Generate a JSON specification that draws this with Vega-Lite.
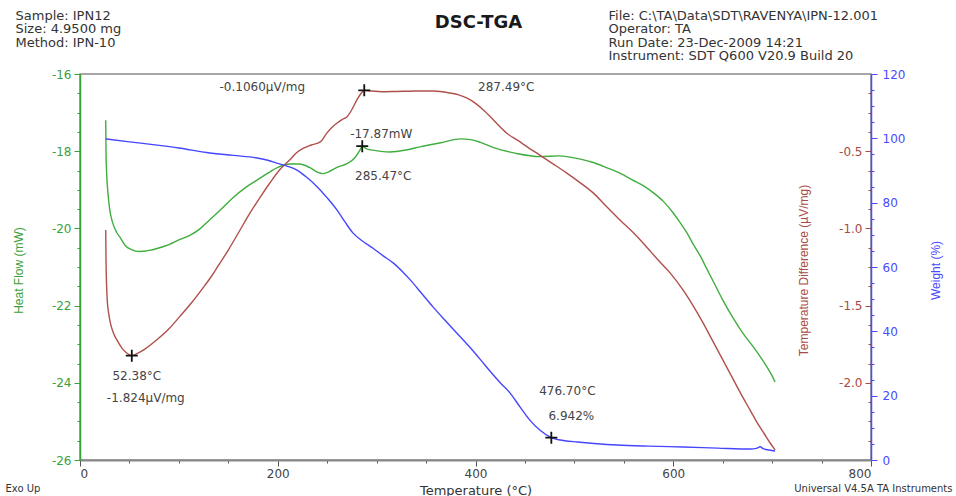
{
  "$schema": "https://vega.github.io/schema/vega-lite/v6.json",
  "width": 791,
  "height": 386,
  "autosize": "none",
  "padding": {"left": 80, "top": 74, "right": 85, "bottom": 36},
  "background": "white",
  "config": {
    "view": {"stroke": "#8a8a8a", "strokeWidth": 1.5},
    "axis": {"labelFont": "DejaVu Sans", "titleFont": "Liberation Sans", "grid": false, "titleFontWeight": "normal"}
  },
  "datasets": {
    "hf": [
      {"t": 26, "v": -17.2}, {"t": 26.3, "v": -18.0}, {"t": 27, "v": -18.6}, {"t": 28, "v": -19.0},
      {"t": 30, "v": -19.5}, {"t": 33, "v": -19.85}, {"t": 37, "v": -20.1}, {"t": 41, "v": -20.25},
      {"t": 46, "v": -20.45}, {"t": 52, "v": -20.55}, {"t": 60, "v": -20.6}, {"t": 70, "v": -20.57},
      {"t": 78, "v": -20.52}, {"t": 90, "v": -20.42}, {"t": 100, "v": -20.3}, {"t": 112, "v": -20.17},
      {"t": 121, "v": -20.02}, {"t": 131, "v": -19.78}, {"t": 143, "v": -19.5}, {"t": 155, "v": -19.2},
      {"t": 167, "v": -18.95}, {"t": 179, "v": -18.75}, {"t": 190, "v": -18.57}, {"t": 200, "v": -18.42},
      {"t": 212, "v": -18.33}, {"t": 222, "v": -18.33}, {"t": 232, "v": -18.42}, {"t": 240, "v": -18.54},
      {"t": 245, "v": -18.58}, {"t": 251, "v": -18.54}, {"t": 260, "v": -18.42}, {"t": 270, "v": -18.32},
      {"t": 278, "v": -18.17}, {"t": 283, "v": -17.98}, {"t": 285.47, "v": -17.87}, {"t": 290, "v": -17.94},
      {"t": 298, "v": -17.98}, {"t": 313, "v": -18.02}, {"t": 330, "v": -17.97}, {"t": 345, "v": -17.88},
      {"t": 365, "v": -17.78}, {"t": 385, "v": -17.68}, {"t": 395, "v": -17.7}, {"t": 405, "v": -17.77},
      {"t": 420, "v": -17.92}, {"t": 440, "v": -18.05}, {"t": 465, "v": -18.14}, {"t": 485, "v": -18.12},
      {"t": 505, "v": -18.2}, {"t": 520, "v": -18.3}, {"t": 533, "v": -18.43}, {"t": 547, "v": -18.58},
      {"t": 559, "v": -18.75}, {"t": 570, "v": -18.9}, {"t": 580, "v": -19.08}, {"t": 590, "v": -19.3},
      {"t": 600, "v": -19.6}, {"t": 607, "v": -19.85}, {"t": 614, "v": -20.12}, {"t": 620, "v": -20.4},
      {"t": 627, "v": -20.7}, {"t": 634, "v": -21.05}, {"t": 640, "v": -21.35}, {"t": 650, "v": -21.85},
      {"t": 660, "v": -22.3}, {"t": 670, "v": -22.7}, {"t": 681, "v": -23.07}, {"t": 690, "v": -23.4},
      {"t": 695, "v": -23.6}, {"t": 700, "v": -23.82}, {"t": 703, "v": -23.98}
    ],
    "td": [
      {"t": 26, "v": -1.01}, {"t": 26.3, "v": -1.2}, {"t": 26.8, "v": -1.35}, {"t": 27.5, "v": -1.46},
      {"t": 29, "v": -1.55}, {"t": 31, "v": -1.62}, {"t": 34, "v": -1.68}, {"t": 38, "v": -1.73},
      {"t": 43, "v": -1.78}, {"t": 48, "v": -1.81}, {"t": 52.38, "v": -1.824}, {"t": 58, "v": -1.81},
      {"t": 66, "v": -1.78}, {"t": 78, "v": -1.72}, {"t": 90, "v": -1.65}, {"t": 101, "v": -1.57},
      {"t": 113, "v": -1.48}, {"t": 125, "v": -1.38}, {"t": 133, "v": -1.31}, {"t": 140, "v": -1.24},
      {"t": 150, "v": -1.14}, {"t": 161, "v": -1.02}, {"t": 172, "v": -0.9}, {"t": 182, "v": -0.8},
      {"t": 192, "v": -0.706}, {"t": 202, "v": -0.62}, {"t": 212, "v": -0.557}, {"t": 219, "v": -0.51},
      {"t": 226, "v": -0.48}, {"t": 234, "v": -0.46}, {"t": 243, "v": -0.44}, {"t": 250, "v": -0.38},
      {"t": 255, "v": -0.345}, {"t": 260, "v": -0.317}, {"t": 265, "v": -0.295}, {"t": 270, "v": -0.278},
      {"t": 275, "v": -0.23}, {"t": 280, "v": -0.168}, {"t": 285, "v": -0.12}, {"t": 287.49, "v": -0.106},
      {"t": 295, "v": -0.11}, {"t": 305, "v": -0.115}, {"t": 320, "v": -0.113}, {"t": 340, "v": -0.11},
      {"t": 357, "v": -0.11}, {"t": 374, "v": -0.123}, {"t": 383, "v": -0.135}, {"t": 391, "v": -0.155},
      {"t": 400, "v": -0.19}, {"t": 408, "v": -0.233}, {"t": 417, "v": -0.29}, {"t": 425, "v": -0.343},
      {"t": 433, "v": -0.39}, {"t": 442, "v": -0.427}, {"t": 453, "v": -0.475}, {"t": 465, "v": -0.525},
      {"t": 478, "v": -0.58}, {"t": 492, "v": -0.64}, {"t": 505, "v": -0.7}, {"t": 519, "v": -0.77},
      {"t": 532, "v": -0.855}, {"t": 546, "v": -0.945}, {"t": 560, "v": -1.03}, {"t": 573, "v": -1.12},
      {"t": 584, "v": -1.2}, {"t": 597, "v": -1.29}, {"t": 610, "v": -1.4}, {"t": 620, "v": -1.5},
      {"t": 630, "v": -1.61}, {"t": 640, "v": -1.73}, {"t": 650, "v": -1.85}, {"t": 660, "v": -1.97},
      {"t": 670, "v": -2.09}, {"t": 678, "v": -2.18}, {"t": 685, "v": -2.26}, {"t": 692, "v": -2.33},
      {"t": 698, "v": -2.39}, {"t": 703, "v": -2.435}
    ],
    "wt": [
      {"t": 26, "v": 99.8}, {"t": 50, "v": 98.9}, {"t": 78, "v": 97.9}, {"t": 100, "v": 97.0},
      {"t": 128, "v": 95.6}, {"t": 155, "v": 94.7}, {"t": 179, "v": 93.9}, {"t": 190, "v": 93.2},
      {"t": 199, "v": 92.3}, {"t": 210, "v": 91.3}, {"t": 219, "v": 90.2}, {"t": 228, "v": 88.2},
      {"t": 240, "v": 84.9}, {"t": 250, "v": 81.5}, {"t": 260, "v": 77.7}, {"t": 268, "v": 74.0},
      {"t": 276, "v": 70.6}, {"t": 286, "v": 68.0}, {"t": 296, "v": 65.9}, {"t": 306, "v": 63.6},
      {"t": 317, "v": 61.2}, {"t": 327, "v": 58.3}, {"t": 334, "v": 56.0}, {"t": 345, "v": 52.0},
      {"t": 357, "v": 47.6}, {"t": 369, "v": 43.5}, {"t": 381, "v": 39.5}, {"t": 393, "v": 35.5},
      {"t": 405, "v": 31.2}, {"t": 415, "v": 27.5}, {"t": 425, "v": 24.0}, {"t": 435, "v": 20.8},
      {"t": 445, "v": 16.5}, {"t": 455, "v": 12.4}, {"t": 465, "v": 9.3}, {"t": 476.7, "v": 6.942},
      {"t": 490, "v": 6.0}, {"t": 503, "v": 5.6}, {"t": 520, "v": 5.15}, {"t": 543, "v": 4.66},
      {"t": 575, "v": 4.3}, {"t": 610, "v": 4.04}, {"t": 645, "v": 3.7}, {"t": 678, "v": 3.42},
      {"t": 684, "v": 3.6}, {"t": 688, "v": 4.1}, {"t": 691, "v": 3.5}, {"t": 695, "v": 3.2},
      {"t": 703, "v": 2.8}
    ],
    "ann": [
      {"s": "hf", "t": 285.47, "v": -17.87, "tl": "285.47°C", "vl": "-17.87mW"},
      {"s": "tdmin", "t": 52.38, "v": -1.824, "tl": "52.38°C", "vl": "-1.824µV/mg"},
      {"s": "tdmax", "t": 287.49, "v": -0.106, "tl": "287.49°C", "vl": "-0.1060µV/mg"},
      {"s": "wt", "t": 476.7, "v": 6.942, "tl": "476.70°C", "vl": "6.942%"}
    ]
  },
  "layer": [
    {
      "data": {"name": "hf"},
      "mark": {"type": "line", "color": "#3fae3f", "strokeWidth": 1.4, "interpolate": "monotone"},
      "encoding": {
        "x": {"field": "t", "type": "quantitative", "scale": {"domain": [0, 800], "nice": false, "zero": false},
          "axis": {"orient": "bottom", "values": [0, 50, 100, 150, 200, 250, 300, 350, 400, 450, 500, 550, 600, 650, 700, 750, 800],
            "labelExpr": "datum.value % 200 === 0 ? datum.label : ''",
            "tickSize": {"condition": {"test": "datum.value % 200 === 0", "value": 6}, "value": 3},
            "domainColor": "#888888", "domainWidth": 2, "tickColor": "#555555", "labelColor": "#444444", "labelFontSize": 12, "labelPadding": 2,
            "title": "Temperature (°C)", "titleFont": "DejaVu Sans", "titleFontSize": 13, "titleColor": "#333333",
            "titleX": 395.5, "titleY": 30, "titleAlign": "center", "titleBaseline": "middle"}},
        "y": {"field": "v", "type": "quantitative", "scale": {"domain": [-26, -16], "nice": false, "zero": false},
          "axis": {"orient": "left", "values": [-26, -25.5, -25, -24.5, -24, -23.5, -23, -22.5, -22, -21.5, -21, -20.5, -20, -19.5, -19, -18.5, -18, -17.5, -17, -16.5, -16],
            "labelExpr": "datum.value % 2 === 0 ? toString(datum.value) : ''",
            "tickSize": {"condition": {"test": "datum.value % 2 === 0", "value": 6}, "value": 3},
            "domainColor": "#3aa03a", "domainWidth": 1.5, "tickColor": "#3aa03a", "labelColor": "#3aa03a", "labelFontSize": 12, "labelPadding": 3,
            "title": "Heat Flow (mW)", "titleColor": "#3aa03a", "titleFontSize": 12,
            "titleX": -62, "titleY": 196, "titleAlign": "center", "titleBaseline": "middle", "titleAngle": -90}}
      }
    },
    {
      "data": {"name": "td"},
      "mark": {"type": "line", "color": "#b0504c", "strokeWidth": 1.4, "interpolate": "monotone"},
      "encoding": {
        "x": {"field": "t", "type": "quantitative", "scale": {"domain": [0, 800], "nice": false, "zero": false},
          "axis": {"orient": "top", "labels": false, "ticks": false, "domain": false,
            "title": "DSC-TGA", "titleFont": "DejaVu Sans", "titleFontSize": 18, "titleFontWeight": "bold", "titleColor": "#1a1a1a",
            "titleX": 398, "titleY": -52, "titleAlign": "center", "titleBaseline": "middle"}},
        "y": {"field": "v", "type": "quantitative", "scale": {"domain": [-2.5, 0], "nice": false, "zero": false},
          "axis": {"orient": "left", "offset": -791,
            "values": [-2.375, -2.25, -2.125, -2, -1.875, -1.75, -1.625, -1.5, -1.375, -1.25, -1.125, -1, -0.875, -0.75, -0.625, -0.5, -0.375, -0.25, -0.125],
            "labelExpr": "indexof([-2, -1.5, -1, -0.5], datum.value) >= 0 ? replace(format(datum.value, '.1f'), '−', '-') : ''",
            "tickSize": {"condition": {"test": "indexof([-2, -1.5, -1, -0.5], datum.value) >= 0", "value": 6}, "value": 3},
            "domain": false, "tickColor": "#a84a45", "labelColor": "#a84a45", "labelFontSize": 12, "labelPadding": 3,
            "title": "Temperature Difference (µV/mg)", "titleColor": "#a84a45", "titleFontSize": 12,
            "titleX": -68, "titleY": 196, "titleAlign": "center", "titleBaseline": "middle", "titleAngle": -90}}
      }
    },
    {
      "data": {"name": "wt"},
      "mark": {"type": "line", "color": "#4646ff", "strokeWidth": 1.4, "interpolate": "monotone"},
      "encoding": {
        "x": {"field": "t", "type": "quantitative", "scale": {"domain": [0, 800], "nice": false, "zero": false},
          "axis": {"orient": "top", "labels": false, "ticks": false, "domain": false,
            "title": ["Sample: IPN12", "Size:  4.9500 mg", "Method: IPN-10"], "titleFont": "DejaVu Sans", "titleFontSize": 13, "titleColor": "#333333",
            "titleX": -65, "titleY": -65, "titleAlign": "left", "titleBaseline": "top", "titleLineHeight": 13.5}},
        "y": {"field": "v", "type": "quantitative", "scale": {"domain": [0, 120], "nice": false, "zero": false},
          "axis": {"orient": "right", "values": [0, 5, 10, 15, 20, 25, 30, 35, 40, 45, 50, 55, 60, 65, 70, 75, 80, 85, 90, 95, 100, 105, 110, 115, 120],
            "labelExpr": "datum.value % 20 === 0 ? datum.label : ''",
            "tickSize": {"condition": {"test": "datum.value % 20 === 0", "value": 6}, "value": 3},
            "domainColor": "#4a4aff", "domainWidth": 1.5, "tickColor": "#4a4aff", "labelColor": "#4a4aff", "labelFontSize": 12, "labelPadding": 5,
            "title": "Weight (%)", "titleColor": "#4a4aff", "titleFontSize": 12,
            "titleX": 64, "titleY": 196, "titleAlign": "center", "titleBaseline": "middle", "titleAngle": -90}}
      }
    },
    {
      "data": {"name": "ann"},
      "transform": [{"filter": "datum.s === 'hf'"}],
      "mark": {"type": "point", "shape": "M-1,0L1,0M0,-1L0,1", "size": 144, "filled": false, "stroke": "#111111", "strokeWidth": 1.8, "opacity": 1},
      "encoding": {
        "x": {"field": "t", "type": "quantitative", "scale": {"domain": [0, 800], "nice": false, "zero": false},
          "axis": {"orient": "top", "labels": false, "ticks": false, "domain": false,
            "title": ["File: C:\\TA\\Data\\SDT\\RAVENYA\\IPN-12.001", "Operator: TA", "Run Date: 23-Dec-2009 14:21", "Instrument: SDT Q600 V20.9 Build 20"],
            "titleFont": "DejaVu Sans", "titleFontSize": 13, "titleColor": "#333333",
            "titleX": 528, "titleY": -65, "titleAlign": "left", "titleBaseline": "top", "titleLineHeight": 13.5}},
        "y": {"field": "v", "type": "quantitative", "scale": {"domain": [-26, -16], "nice": false, "zero": false}, "axis": null}
      }
    },
    {
      "data": {"name": "ann"},
      "transform": [{"filter": "datum.s === 'tdmin' || datum.s === 'tdmax'"}],
      "mark": {"type": "point", "shape": "M-1,0L1,0M0,-1L0,1", "size": 144, "filled": false, "stroke": "#111111", "strokeWidth": 1.8, "opacity": 1},
      "encoding": {
        "x": {"field": "t", "type": "quantitative", "scale": {"domain": [0, 800], "nice": false, "zero": false},
          "axis": {"orient": "bottom", "labels": false, "ticks": false, "domain": false,
            "title": "Exo Up", "titleFont": "DejaVu Sans", "titleFontSize": 10, "titleColor": "#333333",
            "titleX": -75, "titleY": 28, "titleAlign": "left", "titleBaseline": "middle"}},
        "y": {"field": "v", "type": "quantitative", "scale": {"domain": [-2.5, 0], "nice": false, "zero": false}, "axis": null}
      }
    },
    {
      "data": {"name": "ann"},
      "transform": [{"filter": "datum.s === 'wt'"}],
      "mark": {"type": "point", "shape": "M-1,0L1,0M0,-1L0,1", "size": 144, "filled": false, "stroke": "#111111", "strokeWidth": 1.8, "opacity": 1},
      "encoding": {
        "x": {"field": "t", "type": "quantitative", "scale": {"domain": [0, 800], "nice": false, "zero": false},
          "axis": {"orient": "bottom", "labels": false, "ticks": false, "domain": false,
            "title": "Universal V4.5A TA Instruments", "titleFont": "DejaVu Sans", "titleFontSize": 10, "titleColor": "#333333",
            "titleX": 872, "titleY": 28, "titleAlign": "right", "titleBaseline": "middle"}},
        "y": {"field": "v", "type": "quantitative", "scale": {"domain": [0, 120], "nice": false, "zero": false}, "axis": null}
      }
    },
    {
      "data": {"name": "ann"},
      "transform": [{"filter": "datum.s === 'hf'"}],
      "mark": {"type": "text", "dx": 19, "dy": -12, "fontSize": 12, "font": "DejaVu Sans", "color": "#444444"},
      "encoding": {
        "x": {"field": "t", "type": "quantitative", "scale": {"domain": [0, 800], "nice": false, "zero": false}, "axis": null},
        "y": {"field": "v", "type": "quantitative", "scale": {"domain": [-26, -16], "nice": false, "zero": false}, "axis": null},
        "text": {"field": "vl"}
      }
    },
    {
      "data": {"name": "ann"},
      "transform": [{"filter": "datum.s === 'hf'"}],
      "mark": {"type": "text", "dx": 21, "dy": 30, "fontSize": 12, "font": "DejaVu Sans", "color": "#444444"},
      "encoding": {
        "x": {"field": "t", "type": "quantitative", "scale": {"domain": [0, 800], "nice": false, "zero": false}, "axis": null},
        "y": {"field": "v", "type": "quantitative", "scale": {"domain": [-26, -16], "nice": false, "zero": false}, "axis": null},
        "text": {"field": "tl"}
      }
    },
    {
      "data": {"name": "ann"},
      "transform": [{"filter": "datum.s === 'tdmin'"}],
      "mark": {"type": "text", "dx": 5, "dy": 20, "fontSize": 12, "font": "DejaVu Sans", "color": "#444444"},
      "encoding": {
        "x": {"field": "t", "type": "quantitative", "scale": {"domain": [0, 800], "nice": false, "zero": false}, "axis": null},
        "y": {"field": "v", "type": "quantitative", "scale": {"domain": [-2.5, 0], "nice": false, "zero": false}, "axis": null},
        "text": {"field": "tl"}
      }
    },
    {
      "data": {"name": "ann"},
      "transform": [{"filter": "datum.s === 'tdmin'"}],
      "mark": {"type": "text", "dx": 14, "dy": 42, "fontSize": 12, "font": "DejaVu Sans", "color": "#444444"},
      "encoding": {
        "x": {"field": "t", "type": "quantitative", "scale": {"domain": [0, 800], "nice": false, "zero": false}, "axis": null},
        "y": {"field": "v", "type": "quantitative", "scale": {"domain": [-2.5, 0], "nice": false, "zero": false}, "axis": null},
        "text": {"field": "vl"}
      }
    },
    {
      "data": {"name": "ann"},
      "transform": [{"filter": "datum.s === 'tdmax'"}],
      "mark": {"type": "text", "dx": 142, "dy": -3, "fontSize": 12, "font": "DejaVu Sans", "color": "#444444"},
      "encoding": {
        "x": {"field": "t", "type": "quantitative", "scale": {"domain": [0, 800], "nice": false, "zero": false}, "axis": null},
        "y": {"field": "v", "type": "quantitative", "scale": {"domain": [-2.5, 0], "nice": false, "zero": false}, "axis": null},
        "text": {"field": "tl"}
      }
    },
    {
      "data": {"name": "ann"},
      "transform": [{"filter": "datum.s === 'tdmax'"}],
      "mark": {"type": "text", "dx": -102, "dy": -3, "fontSize": 12, "font": "DejaVu Sans", "color": "#444444"},
      "encoding": {
        "x": {"field": "t", "type": "quantitative", "scale": {"domain": [0, 800], "nice": false, "zero": false}, "axis": null},
        "y": {"field": "v", "type": "quantitative", "scale": {"domain": [-2.5, 0], "nice": false, "zero": false}, "axis": null},
        "text": {"field": "vl"}
      }
    },
    {
      "data": {"name": "ann"},
      "transform": [{"filter": "datum.s === 'wt'"}],
      "mark": {"type": "text", "dx": 16, "dy": -47, "fontSize": 12, "font": "DejaVu Sans", "color": "#444444"},
      "encoding": {
        "x": {"field": "t", "type": "quantitative", "scale": {"domain": [0, 800], "nice": false, "zero": false}, "axis": null},
        "y": {"field": "v", "type": "quantitative", "scale": {"domain": [0, 120], "nice": false, "zero": false}, "axis": null},
        "text": {"field": "tl"}
      }
    },
    {
      "data": {"name": "ann"},
      "transform": [{"filter": "datum.s === 'wt'"}],
      "mark": {"type": "text", "dx": 20, "dy": -22, "fontSize": 12, "font": "DejaVu Sans", "color": "#444444"},
      "encoding": {
        "x": {"field": "t", "type": "quantitative", "scale": {"domain": [0, 800], "nice": false, "zero": false}, "axis": null},
        "y": {"field": "v", "type": "quantitative", "scale": {"domain": [0, 120], "nice": false, "zero": false}, "axis": null},
        "text": {"field": "vl"}
      }
    }
  ],
  "resolve": {"scale": {"x": "independent", "y": "independent"}}
}
